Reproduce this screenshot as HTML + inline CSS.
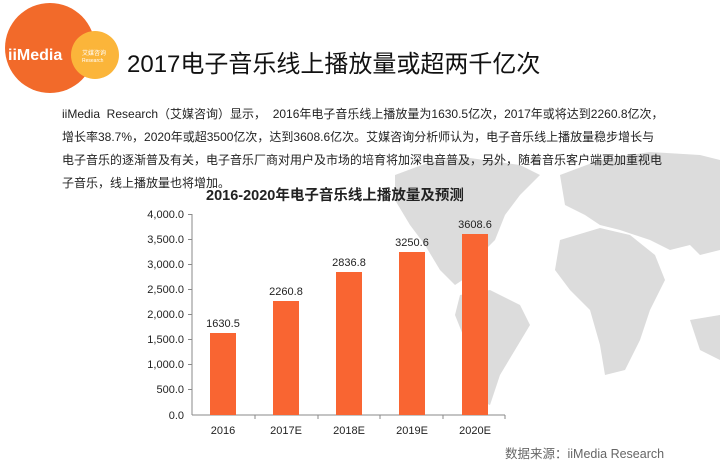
<!DOCTYPE html>
<html><head><meta charset="utf-8"><style>
body{margin:0;width:720px;height:468px;background:#fff;overflow:hidden;position:relative;font-family:"Liberation Sans","Noto Sans CJK SC",sans-serif}
.t{position:absolute;white-space:nowrap}
</style></head><body>
<svg width="720" height="468" style="position:absolute;left:0;top:0">
<g fill="#dcdcdc">
<path d="M395,175 L430,162 L470,158 L520,165 L540,175 L520,195 L505,215 L495,240 L480,255 L470,275 L455,285 L440,270 L425,245 L410,225 L395,200Z"/>
<path d="M460,295 L490,290 L520,305 L530,325 L515,350 L500,375 L490,405 L478,400 L475,370 L465,340 L455,315Z"/>
<path d="M560,175 L600,160 L650,152 L700,155 L720,160 L720,250 L700,255 L690,245 L670,250 L650,240 L620,230 L600,225 L585,215 L565,205Z"/>
<path d="M560,240 L600,228 L630,235 L655,255 L665,280 L650,310 L640,340 L625,370 L605,375 L600,345 L590,310 L570,290 L555,270Z"/>
<path d="M690,320 L720,315 L720,360 L700,350Z"/>
</g>
<circle cx="50" cy="48" r="45" fill="#f26a2a"/>
<circle cx="95" cy="55" r="24" fill="#fbb53a"/>
<text x="8" y="60" font-family="Liberation Sans" font-weight="bold" font-size="16" fill="#fff">iiMedia</text>
<text x="82" y="55" font-size="6" fill="#fff">艾媒咨询</text>
<text x="82" y="62" font-size="5" fill="#fff">Research</text>
<line x1="192" y1="214" x2="192" y2="415" stroke="#888"/>
<line x1="192" y1="415" x2="505" y2="415" stroke="#888"/>
<g stroke="#888">
<line x1="188" y1="214.5" x2="192" y2="214.5"/><line x1="188" y1="239.5" x2="192" y2="239.5"/>
<line x1="188" y1="264.5" x2="192" y2="264.5"/><line x1="188" y1="289.5" x2="192" y2="289.5"/>
<line x1="188" y1="314.5" x2="192" y2="314.5"/><line x1="188" y1="339.5" x2="192" y2="339.5"/>
<line x1="188" y1="364.5" x2="192" y2="364.5"/><line x1="188" y1="389.5" x2="192" y2="389.5"/>
<line x1="255" y1="415" x2="255" y2="419"/><line x1="318" y1="415" x2="318" y2="419"/>
<line x1="380" y1="415" x2="380" y2="419"/><line x1="443" y1="415" x2="443" y2="419"/>
<line x1="505" y1="415" x2="505" y2="419"/>
</g>
<g font-size="11" fill="#222" text-anchor="end" font-family="Liberation Sans">
<text x="184" y="218">4,000.0</text><text x="184" y="243">3,500.0</text><text x="184" y="268">3,000.0</text>
<text x="184" y="293">2,500.0</text><text x="184" y="318">2,000.0</text><text x="184" y="343">1,500.0</text>
<text x="184" y="368">1,000.0</text><text x="184" y="393">500.0</text><text x="184" y="419">0.0</text>
</g>
<g fill="#f96532">
<rect x="210" y="333" width="26" height="82"/>
<rect x="273" y="301" width="26" height="114"/>
<rect x="336" y="272" width="26" height="143"/>
<rect x="399" y="252" width="26" height="163"/>
<rect x="462" y="234" width="26" height="181"/>
</g>
<g font-size="11" fill="#222" text-anchor="middle" font-family="Liberation Sans">
<text x="223" y="327">1630.5</text><text x="286" y="295">2260.8</text><text x="349" y="266">2836.8</text>
<text x="412" y="246">3250.6</text><text x="475" y="228">3608.6</text>
<text x="223" y="434">2016</text><text x="286" y="434">2017E</text><text x="349" y="434">2018E</text>
<text x="412" y="434">2019E</text><text x="475" y="434">2020E</text>
</g>
</svg>
<div class="t" style="left:127px;top:44px;font-size:24px;color:#111">2017电子音乐线上播放量或超两千亿次</div>
<div class="t" style="left:62px;top:103px;font-size:12px;line-height:23px;color:#222">iiMedia&nbsp; Research（艾媒咨询）显示，&nbsp; 2016年电子音乐线上播放量为1630.5亿次，2017年或将达到2260.8亿次，<br>增长率38.7%，2020年或超3500亿次，达到3608.6亿次。艾媒咨询分析师认为，电子音乐线上播放量稳步增长与<br>电子音乐的逐渐普及有关，电子音乐厂商对用户及市场的培育将加深电音普及，另外，随着音乐客户端更加重视电<br>子音乐，线上播放量也将增加。</div>
<div class="t" style="left:206px;top:184px;font-size:14.5px;font-weight:bold;color:#222">2016-2020年电子音乐线上播放量及预测</div>
<div class="t" style="left:505px;top:443px;font-size:12.5px;color:#666">数据来源：iiMedia Research</div>
</body></html>
